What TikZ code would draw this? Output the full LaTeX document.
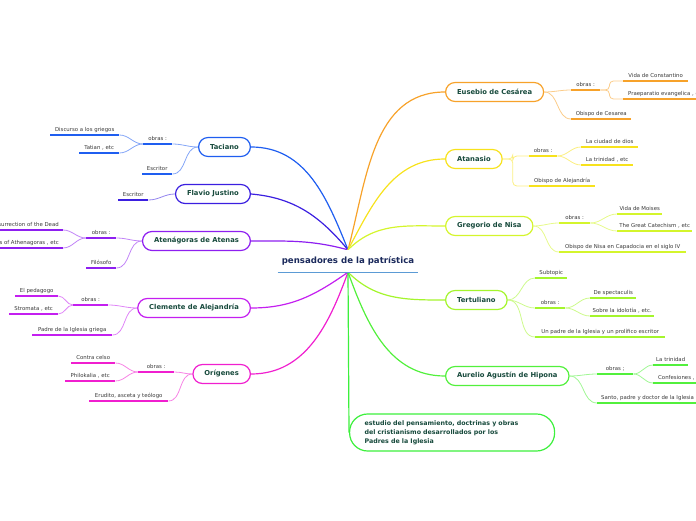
\documentclass[tikz,border=0pt]{standalone}
\usepackage{fontspec}
\setmainfont{DejaVu Sans}
\pgfdeclarelayer{bg}
\pgfsetlayers{bg,main}
\definecolor{cTac}{HTML}{1F5EF0}
\definecolor{cFla}{HTML}{3B1FE0}
\definecolor{cAte}{HTML}{8E1FF0}
\definecolor{cCle}{HTML}{C41FF0}
\definecolor{cOri}{HTML}{F01FCF}
\definecolor{cEus}{HTML}{F7A22A}
\definecolor{cAta}{HTML}{F7E21C}
\definecolor{cGre}{HTML}{D4F52C}
\definecolor{cTer}{HTML}{A4F52C}
\definecolor{cAur}{HTML}{52F03C}
\definecolor{cEst}{HTML}{3CF03C}
\definecolor{txtMain}{HTML}{174A3C}
\definecolor{txtLeaf}{HTML}{3A3A3A}
\definecolor{txtCenter}{HTML}{1B2A5C}
\definecolor{ulCenter}{HTML}{5B9BD5}
\tikzset{
  mainbox/.style={draw=#1, line width=1.2pt, fill=white, rounded corners=9.5pt,
    minimum height=19pt, inner xsep=11.5pt, inner ysep=0pt,
    font=\fontsize{6.8}{8}\selectfont\bfseries, text=txtMain},
  leaf/.style={inner xsep=0pt, inner ysep=2.2pt, text height=4pt, text depth=1.3pt,
    font=\fontsize{5.4}{6.5}\selectfont, text=txtLeaf},
  ulline/.style={draw=#1, line width=1.6pt},
  sublink/.style={draw=#1!55!white, line width=0.8pt},
  mainlink/.style={draw=#1, line width=1.2pt},
}
\begin{document}
\begin{tikzpicture}[x=1pt,y=1pt]
\useasboundingbox (0,0) rectangle (696,520);
% root
\node[font=\fontsize{8.6}{10}\selectfont\bfseries, text=txtCenter, fill=white,
  minimum height=22pt, inner xsep=4pt, inner ysep=0pt] (root) at (348,259) {pensadores de la patrística};
\draw[ulCenter, line width=1pt] (root.south west) -- (root.south east);
% main nodes left
\node[mainbox=cTac, anchor=east] (Tac) at (251,373) {Taciano};
\node[mainbox=cFla, anchor=east] (Fla) at (251,326) {Flavio Justino};
\node[mainbox=cAte, anchor=east] (Ate) at (251,279) {Atenágoras de Atenas};
\node[mainbox=cCle, anchor=east] (Cle) at (251,212) {Clemente de Alejandría};
\node[mainbox=cOri, anchor=east] (Ori) at (251,146) {Orígenes};
% main nodes right
\node[mainbox=cEus, anchor=west] (Eus) at (445,428) {Eusebio de Cesárea};
\node[mainbox=cAta, anchor=west] (Ata) at (445,361) {Atanasio};
\node[mainbox=cGre, anchor=west] (Gre) at (445,294) {Gregorio de Nisa};
\node[mainbox=cTer, anchor=west] (Ter) at (445,220) {Tertuliano};
\node[mainbox=cAur, anchor=west] (Aur) at (445,144) {Aurelio Agustín de Hipona};
\node[draw=cEst, line width=1.2pt, fill=white, rounded corners=18pt, minimum height=37pt,
  inner xsep=15pt, text width=175pt, align=left, anchor=west, font=\fontsize{6.3}{9}\selectfont\bfseries, text=txtMain]
  (Est) at (349,87.5) {estudio del pensamiento, doctrinas y obras\\del cristianismo desarrollados por los\\Padres de la Iglesia};
% leaves Taciano
\node[leaf, anchor=south west, minimum width=29pt] (t_obras) at (143,376) {obras :};
\node[leaf, anchor=south west, minimum width=69pt] (t_disc) at (50,385) {Discurso a los griegos};
\node[leaf, anchor=south west, minimum width=40pt] (t_tat) at (79,367) {Tatian , etc};
\node[leaf, anchor=south west, minimum width=30pt] (t_esc) at (142,346) {Escritor};
% Flavio
\node[leaf, anchor=south west, minimum width=30pt] (f_esc) at (118,320) {Escritor};
% Atenagoras
\node[leaf, anchor=south west, minimum width=30pt] (a_obras) at (86,282) {obras :};
\node[leaf, anchor=south east, inner xsep=4pt] (a_res) at (63,290) {On the Resurrection of the Dead};
\node[leaf, anchor=south east, inner xsep=4pt] (a_works) at (63,272) {Works of Athenagoras , etc};
\node[leaf, anchor=south west, minimum width=30pt] (a_fil) at (86,252) {Filósofo};
% Clemente
\node[leaf, anchor=south west, minimum width=35pt] (c_obras) at (73,215) {obras :};
\node[leaf, anchor=south west, minimum width=43pt] (c_ped) at (15,224) {El pedagogo};
\node[leaf, anchor=south west, minimum width=49pt] (c_str) at (9,206) {Stromata , etc};
\node[leaf, anchor=south west, minimum width=80pt] (c_pad) at (32,185) {Padre de la Iglesia griega};
% Origenes
\node[leaf, anchor=south west, minimum width=36pt] (o_obras) at (138,148) {obras :};
\node[leaf, anchor=south west, minimum width=44pt] (o_con) at (71,157) {Contra celso};
\node[leaf, anchor=south west, minimum width=50pt] (o_phi) at (65,139) {Philokalia , etc};
\node[leaf, anchor=south west, minimum width=79pt] (o_eru) at (89,119) {Erudito, asceta y teólogo};
% Eusebio
\node[leaf, anchor=south west, minimum width=29pt] (e_obras) at (571,430) {obras :};
\node[leaf, anchor=south west, minimum width=65pt] (e_vida) at (623,439) {Vida de Constantino};
\node[leaf, anchor=south west, inner xsep=5pt] (e_prae) at (623,421) {Praeparatio evangelica , etc};
\node[leaf, anchor=south west, minimum width=60pt] (e_obi) at (571,401) {Obispo de Cesarea};
% Atanasio
\node[leaf, anchor=south west, minimum width=28pt] (at_obras) at (529,364) {obras :};
\node[leaf, anchor=south west, minimum width=57pt] (at_ciu) at (581,373) {La ciudad de dios};
\node[leaf, anchor=south west, minimum width=52pt] (at_tri) at (581,355) {La trinidad , etc};
\node[leaf, anchor=south west, minimum width=66pt] (at_obi) at (529,334) {Obispo de Alejandría};
% Gregorio
\node[leaf, anchor=south west, minimum width=31pt] (g_obras) at (559,297) {obras :};
\node[leaf, anchor=south west, minimum width=45pt] (g_vida) at (617,306) {Vida de Moises};
\node[leaf, anchor=south west, minimum width=75pt] (g_cat) at (617,289) {The Great Catechism , etc};
\node[leaf, anchor=south west, minimum width=127pt] (g_obi) at (559,268) {Obispo de Nisa en Capadocia en el siglo IV};
% Tertuliano
\node[leaf, anchor=south west, minimum width=32pt] (te_sub) at (535,242) {Subtopic};
\node[leaf, anchor=south west, minimum width=30pt] (te_obras) at (535,212) {obras :};
\node[leaf, anchor=south west, minimum width=46pt] (te_spe) at (590,222) {De spectaculis};
\node[leaf, anchor=south west, minimum width=64pt] (te_ido) at (590,204) {Sobre la idolotía , etc.};
\node[leaf, anchor=south west, minimum width=130pt] (te_pad) at (535,183) {Un padre de la Iglesia y un prolífico escritor};
% Aurelio
\node[leaf, anchor=south west, minimum width=36pt] (au_obras) at (597,146) {obras ;};
\node[leaf, anchor=south west, minimum width=35pt] (au_tri) at (653,155) {La trinidad};
\node[leaf, anchor=south west, inner xsep=5pt] (au_con) at (653,137) {Confesiones , etc};
\node[leaf, anchor=south west, inner xsep=4pt] (au_san) at (597,117) {Santo, padre y doctor de la Iglesia};
% underlines
\foreach \n/\c in {t_obras/cTac,t_disc/cTac,t_tat/cTac,t_esc/cTac,f_esc/cFla,
  a_obras/cAte,a_res/cAte,a_works/cAte,a_fil/cAte,
  c_obras/cCle,c_ped/cCle,c_str/cCle,c_pad/cCle,
  o_obras/cOri,o_con/cOri,o_phi/cOri,o_eru/cOri,
  e_obras/cEus,e_vida/cEus,e_prae/cEus,e_obi/cEus,
  at_obras/cAta,at_ciu/cAta,at_tri/cAta,at_obi/cAta,
  g_obras/cGre,g_vida/cGre,g_cat/cGre,g_obi/cGre,
  te_sub/cTer,te_obras/cTer,te_spe/cTer,te_ido/cTer,te_pad/cTer,
  au_obras/cAur,au_tri/cAur,au_con/cAur,au_san/cAur}
  {\draw[ulline=\c] (\n.south west) -- (\n.south east);}
\begin{pgfonlayer}{bg}
% main links
\draw[mainlink=cTac] (Tac.east) to[out=0,in=112] (root.north);
\draw[mainlink=cFla] (Fla.east) to[out=-5,in=130] (root.north);
\draw[mainlink=cAte] (Ate.east) to[out=0,in=165] (root.north);
\draw[mainlink=cCle] (Cle.east) to[out=0,in=-145] (root.south);
\draw[mainlink=cOri] (Ori.east) to[out=0,in=-110] (root.south);
\draw[mainlink=cEus] (root.north) to[out=75,in=180] (Eus.west);
\draw[mainlink=cAta] (root.north) to[out=62,in=180] (Ata.west);
\draw[mainlink=cGre] (root.north) to[out=45,in=180] (Gre.west);
\draw[mainlink=cTer] (root.south) to[out=-45,in=180] (Ter.west);
\draw[mainlink=cAur] (root.south) to[out=-70,in=180] (Aur.west);
\draw[mainlink=cEst] (root.south) -- (Est.west);
% sub links left
\draw[sublink=cTac] (Tac.west) to[out=180,in=0] (t_obras.south east);
\draw[sublink=cTac] (Tac.west) to[out=180,in=0] (t_esc.south east);
\draw[sublink=cTac] (t_obras.south west) to[out=180,in=0] (t_disc.south east);
\draw[sublink=cTac] (t_obras.south west) to[out=180,in=0] (t_tat.south east);
\draw[sublink=cFla] (Fla.west) to[out=180,in=0] (f_esc.south east);
\draw[sublink=cAte] (Ate.west) to[out=180,in=0] (a_obras.south east);
\draw[sublink=cAte] (Ate.west) to[out=180,in=0] (a_fil.south east);
\draw[sublink=cAte] (a_obras.south west) to[out=180,in=0] (a_res.south east);
\draw[sublink=cAte] (a_obras.south west) to[out=180,in=0] (a_works.south east);
\draw[sublink=cCle] (Cle.west) to[out=180,in=0] (c_obras.south east);
\draw[sublink=cCle] (Cle.west) to[out=180,in=0] (c_pad.south east);
\draw[sublink=cCle] (c_obras.south west) to[out=180,in=0] (c_ped.south east);
\draw[sublink=cCle] (c_obras.south west) to[out=180,in=0] (c_str.south east);
\draw[sublink=cOri] (Ori.west) to[out=180,in=0] (o_obras.south east);
\draw[sublink=cOri] (Ori.west) to[out=180,in=0] (o_eru.south east);
\draw[sublink=cOri] (o_obras.south west) to[out=180,in=0] (o_con.south east);
\draw[sublink=cOri] (o_obras.south west) to[out=180,in=0] (o_phi.south east);
% sub links right
\draw[sublink=cEus] (Eus.east) to[out=0,in=180] (e_obras.south west);
\draw[sublink=cEus] (Eus.east) to[out=0,in=180] (e_obi.south west);
\draw[sublink=cEus, rounded corners=4pt] (e_obras.south east) -- ++(9,0) |- (e_vida.south west);
\draw[sublink=cEus, rounded corners=4pt] (e_obras.south east) -- ++(9,0) |- (e_prae.south west);
\draw[sublink=cAta, rounded corners=4pt] (Ata.east) -- ++(10,0) |- (at_obras.south west);
\draw[sublink=cAta, rounded corners=4pt] (Ata.east) -- ++(10,0) |- (at_obi.south west);
\draw[sublink=cAta] (at_obras.south east) to[out=0,in=180] (at_ciu.south west);
\draw[sublink=cAta] (at_obras.south east) to[out=0,in=180] (at_tri.south west);
\draw[sublink=cGre] (Gre.east) to[out=0,in=180] (g_obras.south west);
\draw[sublink=cGre] (Gre.east) to[out=0,in=180] (g_obi.south west);
\draw[sublink=cGre] (g_obras.south east) to[out=0,in=180] (g_vida.south west);
\draw[sublink=cGre] (g_obras.south east) to[out=0,in=180] (g_cat.south west);
\draw[sublink=cTer] (Ter.east) to[out=0,in=180] (te_sub.south west);
\draw[sublink=cTer] (Ter.east) to[out=0,in=180] (te_obras.south west);
\draw[sublink=cTer] (Ter.east) to[out=0,in=180] (te_pad.south west);
\draw[sublink=cTer] (te_obras.south east) to[out=0,in=180] (te_spe.south west);
\draw[sublink=cTer] (te_obras.south east) to[out=0,in=180] (te_ido.south west);
\draw[sublink=cAur] (Aur.east) to[out=0,in=180] (au_obras.south west);
\draw[sublink=cAur] (Aur.east) to[out=0,in=180] (au_san.south west);
\draw[sublink=cAur] (au_obras.south east) to[out=0,in=180] (au_tri.south west);
\draw[sublink=cAur] (au_obras.south east) to[out=0,in=180] (au_con.south west);
\end{pgfonlayer}
\end{tikzpicture}
\end{document}
